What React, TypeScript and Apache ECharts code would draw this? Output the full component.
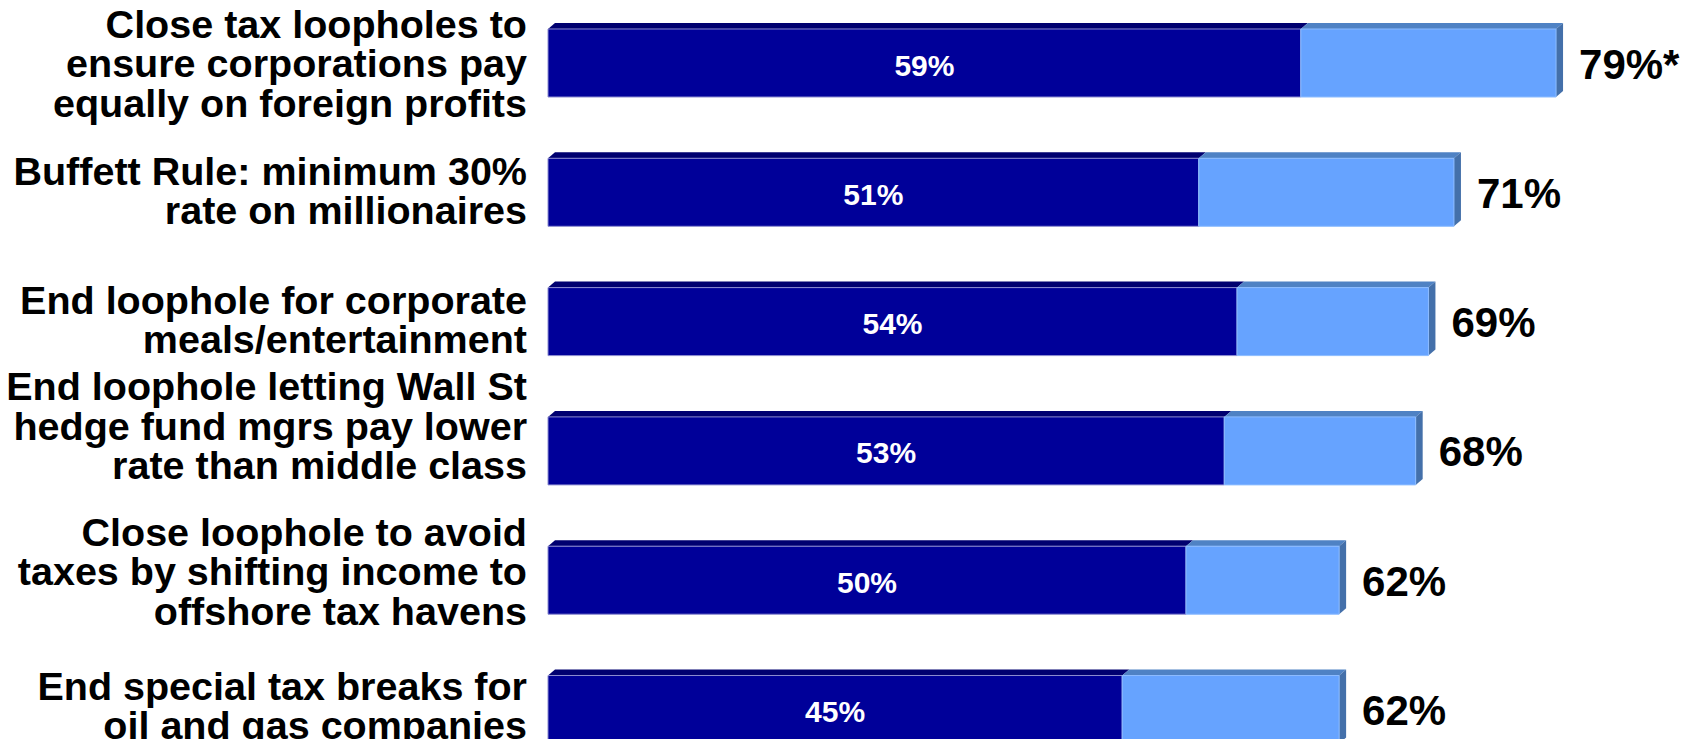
import React, { useEffect, useRef } from "react";
import * as echarts from "echarts";

const categories = [
  "Close tax loopholes to\nensure corporations pay\nequally on foreign profits",
  "Buffett Rule: minimum 30%\nrate on millionaires",
  "End loophole for corporate\nmeals/entertainment",
  "End loophole letting Wall St\nhedge fund mgrs pay lower\nrate than middle class",
  "Close loophole to avoid\ntaxes by shifting income to\noffshore tax havens",
  "End special tax breaks for\noil and gas companies",
];
const strongValues = [59, 51, 54, 53, 50, 45];
const totalValues = [79, 71, 69, 68, 62, 62];
const totalNotes = ["*", "", "", "", "", ""];

// layout: vertical nudge of each category label (px), as placed in the original slide
const LABEL_SHIFT = [0, -2, -2, -25, -9, -4];

const FONT = "'Liberation Sans', Arial, sans-serif";
const DX = 7;
const DY = 6;
const OFFSET = 20;

export default function App() {
  const ref = useRef<HTMLDivElement>(null);
  useEffect(() => {
    if (!ref.current) return;
    const chart = echarts.init(ref.current, undefined, { renderer: "svg" });
    const data = categories.map((_, i) => [i, strongValues[i], totalValues[i]]);
    chart.setOption({
      animation: false,
      backgroundColor: "#ffffff",
      grid: { left: 548, top: OFFSET - 1.65, width: 1020.8, height: 775.8 },
      xAxis: {
        type: "value",
        min: 0,
        max: 80,
        show: false,
      },
      yAxis: {
        type: "category",
        inverse: true,
        data: categories,
        axisLine: { show: false },
        axisTick: { show: false },
        splitLine: { show: false },
        axisLabel: { show: false },
      },
      series: [
        {
          type: "custom",
          clip: false,
          data,
          encode: { x: [1, 2], y: 0 },
          renderItem: (params: any, api: any) => {
            const idx = api.value(0);
            const strong = api.value(1);
            const total = api.value(2);
            const p0 = api.coord([0, idx]);
            const p1 = api.coord([strong, idx]);
            const p2 = api.coord([total, idx]);
            const h = api.size([0, 1])[1] * 0.526;
            const yT = p0[1] - h / 2;
            const yB = p0[1] + h / 2;
            const x0 = p0[0];
            const x1 = p1[0];
            const x2 = p2[0];
            return {
              type: "group",
              children: [
                {
                  type: "polygon",
                  shape: { points: [[x0, yT], [x0 + DX, yT - DY], [x1 + DX, yT - DY], [x1, yT]] },
                  style: { fill: "#000070" },
                },
                {
                  type: "polygon",
                  shape: { points: [[x1, yT], [x1 + DX, yT - DY], [x2 + DX, yT - DY], [x2, yT]] },
                  style: { fill: "#4f82c4" },
                },
                {
                  type: "polygon",
                  shape: { points: [[x2, yT], [x2 + DX, yT - DY], [x2 + DX, yB - DY], [x2, yB]] },
                  style: { fill: "#4470aa" },
                },
                {
                  type: "rect",
                  shape: { x: x0, y: yT, width: x1 - x0, height: h },
                  style: { fill: "#000099", stroke: "#8c8cd0", lineWidth: 1 },
                },
                {
                  type: "rect",
                  shape: { x: x1, y: yT, width: x2 - x1, height: h },
                  style: { fill: "#66a3ff", stroke: "#8cbcff", lineWidth: 1 },
                },
                {
                  type: "text",
                  style: {
                    x: (x0 + x1) / 2,
                    y: p0[1] + 2,
                    text: strong + "%",
                    fill: "#ffffff",
                    font: "bold 30px " + FONT,
                    align: "center",
                    verticalAlign: "middle",
                  },
                },
                {
                  type: "text",
                  style: {
                    x: x2 + 23,
                    y: p0[1] + 1,
                    text: total + "%" + totalNotes[idx],
                    fill: "#000000",
                    font: "bold 42px " + FONT,
                    align: "left",
                    verticalAlign: "middle",
                  },
                },
                {
                  type: "text",
                  style: {
                    x: x0 - 21,
                    y: p0[1] + LABEL_SHIFT[idx],
                    text: categories[idx],
                    fill: "#000000",
                    font: "bold 39.5px " + FONT,
                    lineHeight: 39.5,
                    align: "right",
                    verticalAlign: "middle",
                  },
                },
              ],
            };
          },
        },
      ],
    });
    return () => chart.dispose();
  }, []);
  return (
    <div
      ref={ref}
      style={{ position: "fixed", left: 0, top: -OFFSET, width: 1685, height: 820, background: "#fff" }}
    />
  );
}
